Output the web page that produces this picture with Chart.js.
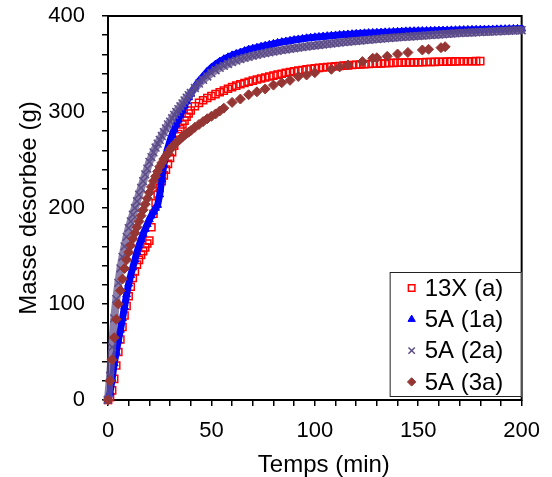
<!DOCTYPE html>
<html>
<head>
<meta charset="utf-8">
<script src="https://cdn.jsdelivr.net/npm/chart.js@4/dist/chart.umd.min.js"></script>
<style>
  html, body { margin: 0; padding: 0; background: #ffffff; }
  #wrap { position: relative; width: 552px; height: 477px; }
</style>
</head>
<body>
<div id="wrap"><canvas id="c" width="552" height="477"></canvas></div>
<script>
// ---- Data ----
const seriesLabels = ["13X (a)", "5A (1a)", "5A (2a)", "5A (3a)"];

const xTickLabels = [0, 50, 100, 150, 200];
const yTickLabels = [0, 100, 200, 300, 400];

// 13X (a) - time (min)
const time13X = [0,1,2,3,4,5,6,7,8,9,10,11,12,13,14,15,16,17,18,19,20,21,22,23,24,25,26,27,28,29,30,31,32,33,34,35,36,37,38,39,40,
  42,44,46,48,50,52,54,56,58,60,62,64,66,68,70,72,74,76,78,80,82,84,86,88,90,92,94,96,98,100,
  102,104,106,108,110,112,114,116,118,120,122,124,126,128,130,132,134,136,138,140,
  142,144,146,148,150,152,154,156,158,160,162,164,166,168,170,172,174,176,178,180];
// 13X (a) - mass (g)
const mass13X = [0,3,10,22,36,50,63,76,88,98,108,118,127,134,141,146,151,155,159,163,166,180,194,205,214,221,228,234,240,246,252,258,265,271,277,282,287,291,295,298.5,301.5,
  306,309.5,312.3,314.6,316.6,318.6,320.5,322.3,324.2,325.9,
  327.5,328.9,330.2,331.5,332.7,333.8,334.9,335.9,336.9,337.9,
  338.9,339.9,340.8,341.6,342.4,343.1,343.8,344.4,345,345.5,
  346,346.4,346.8,347.2,347.6,348,348.3,348.6,348.9,349.2,
  349.5,349.8,350,350.2,350.4,350.6,350.8,351,351.2,351.3,
  351.4,351.5,351.6,351.7,351.8,351.9,352,352.1,352.2,352.3,
  352.4,352.5,352.6,352.7,352.8,352.8,352.9,352.9,353,353];

// 5A (1a) and 5A (2a) share the same sampling times (min)
const time5A = [0,1,2,3,4,5,6,7,8,9,10,11,12,13,14,15,16,17,18,19,20,21,22,23,24,25,26,27,28,29,30,31,32,33,34,35,36,37,38,39,40,
  42,44,46,48,50,52,54,56,58,60,62,64,66,68,70,72,74,76,78,80,82,84,86,88,90,92,94,96,98,100,
  102,104,106,108,110,112,114,116,118,120,122,124,126,128,130,132,134,136,138,140,
  142,144,146,148,150,152,154,156,158,160,162,164,166,168,170,172,174,176,178,180,
  182,184,186,188,190,192,194,196,198,200];
// 5A (1a) - mass (g)
const mass5A1 = [0,8,22,38,50,62,73,85,97,110,121,130,138,146,154,161,167,173,178,183,188,192,196,200,203,214,230,245,255,263,270,276,282,287,292,297,302,307,311,315,319,
  326,332,337,342,346,349.5,352.5,355,357,359,
  360.5,362,363.5,365,366,367,368,369,370,371,
  372,372.8,373.5,374.2,375,375.6,376.2,376.8,377.3,377.8,
  378.2,378.6,379,379.4,379.8,380.2,380.5,380.8,381.1,381.4,
  381.7,382,382.2,382.4,382.6,382.8,383,383.2,383.4,383.6,
  383.8,384,384.1,384.2,384.3,384.4,384.5,384.6,384.7,384.8,
  384.9,385,385.1,385.2,385.3,385.4,385.5,385.6,385.7,385.8,
  385.9,386,386,386.1,386.2,386.3,386.4,386.5,386.6,386.7];
// 5A (2a) - mass (g)
const mass5A2 = [0,25,55,85,105,122,137,149,160,170,179,186,193,200,207,214,221,228,235,241,248,253,258,263,267,271,275,279,283,287,290,293.5,297,300,303,306,309,312,315,317.5,320,
  325,329.5,333.5,337,340.5,343.5,346,348,350,352,
  353.5,355,356.3,357.5,358.6,359.6,360.5,361.4,362.2,363,
  363.7,364.4,365.1,365.8,366.4,367,367.6,368.2,368.8,369.3,
  369.8,370.3,370.8,371.3,371.8,372.3,372.8,373.2,373.6,374,
  374.4,374.8,375.2,375.6,376,376.4,376.8,377.1,377.4,377.7,
  378,378.3,378.6,378.9,379.2,379.5,379.8,380.1,380.4,380.7,
  381,381.3,381.6,381.9,382.2,382.4,382.6,382.8,383,383.2,
  383.4,383.6,383.8,384,384.2,384.4,384.6,384.8,385,385.2];

// 5A (3a) - time (min)
const time5A3 = [0,1,2,3,4,5,6,7,8,9,10,11,12,13,14,15,16,17,18,19,20,21,22,23,24,25,26,27,28,29,30,31,32,33,34,35,36,37,38,39,40,
  42,44,46,48,50,52,54,
  56,60,64,68,72,76,80,84,88,92,96,100,108,112,116,123,128,130,135,140,145,152,155,161,163];
// 5A (3a) - mass (g)
const mass5A3 = [0,20,42,65,84,100,114,126,137,146,154,161,168,174,180,186,192,198,204,210,216,222,228,233,238,243,247,251,254,257,261,263.5,266,268,270,272,274,276,277.5,279,280.5,
  284,287,290,293,295.5,298,301,
  304,310,313.5,318,321,324,328,330.5,333,337,338.5,341,344.5,347,349,352.5,356,356.5,358,360.4,362,364.6,365.3,367,368];

// ---- Styles ----
const FONT = "'Liberation Sans', Arial, Helvetica, sans-serif";
const colRed = '#FF0000', colBlue = '#0000FF', colPurple = '#5C4C88', colBrown = '#963634';

function pairs(xs, ys) { return xs.map((x, i) => ({ x: x, y: ys[i] })); }

const styles = [
  { color: colRed,    pointStyle: 'rect',     radius: 5,   fill: 'rgba(0,0,0,0)', bw: 1.5, order: 4, line: 0 },
  { color: colBlue,   pointStyle: 'triangle', radius: 4.5, fill: colBlue,         bw: 1,   order: 3, line: 7, lineColor: colBlue },
  { color: colPurple, pointStyle: 'crossRot', radius: 5.5, fill: colPurple,       bw: 1.5, order: 2, line: 8, lineColor: 'rgba(100,84,142,0.75)' },
  { color: colBrown,  pointStyle: 'rectRot',  radius: 5,   fill: colBrown,        bw: 1,   order: 1, line: 0 }
];
const seriesData = [pairs(time13X, mass13X), pairs(time5A, mass5A1), pairs(time5A, mass5A2), pairs(time5A3, mass5A3)];

const datasets = seriesLabels.map((lab, i) => ({
  label: lab,
  data: seriesData[i],
  showLine: styles[i].line > 0,
  borderWidth: styles[i].line,
  borderColor: styles[i].line > 0 ? styles[i].lineColor : styles[i].color,
  tension: 0,
  pointStyle: styles[i].pointStyle,
  pointRadius: styles[i].radius,
  pointBorderWidth: styles[i].bw,
  backgroundColor: styles[i].fill,
  pointBorderColor: styles[i].color,
  pointBackgroundColor: styles[i].fill,
  order: styles[i].order,
  clip: false
}));

// Frame around the plot area
const framePlugin = {
  id: 'frame',
  beforeDatasetsDraw(chart) {
    const a = chart.chartArea, ctx = chart.ctx;
    ctx.save();
    ctx.strokeStyle = '#000';
    ctx.lineWidth = 2;
    ctx.strokeRect(a.left, a.top, a.right - a.left, a.bottom - a.top);
    ctx.restore();
  }
};

// X axis title, centred slightly right of the plot centre as in the reference
const xTitlePlugin = {
  id: 'xTitle',
  afterDraw(chart) {
    const a = chart.chartArea, ctx = chart.ctx;
    const t = chart.options.scales.x.title;
    ctx.save();
    ctx.fillStyle = '#000';
    ctx.font = '24px ' + FONT;
    ctx.textAlign = 'center';
    ctx.textBaseline = 'alphabetic';
    ctx.fillText(t.text, (a.left + a.right) / 2 + 9, 472);
    ctx.restore();
  }
};

// Legend box drawn inside the plot (bottom right)
const legendPlugin = {
  id: 'insideLegend',
  afterDatasetsDraw(chart) {
    const a = chart.chartArea, ctx = chart.ctx;
    const w = 132, h = 125;
    const x0 = a.right - w, y0 = a.bottom - 3 - h;
    ctx.save();
    ctx.fillStyle = '#fff';
    ctx.fillRect(x0, y0, w, h);
    ctx.strokeStyle = '#222';
    ctx.lineWidth = 1;
    ctx.strokeRect(x0 + 0.5, y0 + 0.5, w - 1, h - 1);
    const rowH = 31.3;
    const legendRadius = [4.6, 4.2, 4.5, 4.2];
    seriesLabels.forEach((lab, i) => {
      const cy = y0 + 16 + i * rowH;
      const cx = x0 + 22;
      ctx.strokeStyle = styles[i].color;
      ctx.fillStyle = styles[i].fill;
      ctx.lineWidth = styles[i].bw;
      Chart.helpers.drawPoint(ctx, { pointStyle: styles[i].pointStyle, radius: legendRadius[i], rotation: 0, borderWidth: styles[i].bw }, cx, cy);
      ctx.fillStyle = '#000';
      ctx.font = '24px ' + FONT;
      ctx.textAlign = 'left';
      ctx.textBaseline = 'middle';
      ctx.fillText(lab, x0 + 35, cy + 1);
    });
    ctx.restore();
  }
};

new Chart(document.getElementById('c'), {
  type: 'scatter',
  data: { datasets: datasets },
  options: {
    responsive: false,
    animation: false,
    devicePixelRatio: 1,
    layout: { padding: { left: 0, top: 0, right: 29, bottom: 0 } },
    plugins: { legend: { display: false }, tooltip: { enabled: false } },
    elements: { line: { borderJoinStyle: 'round', borderCapStyle: 'round' } },
    scales: {
      x: {
        type: 'linear', min: 0, max: 200,
        border: { display: false },
        grid: { drawOnChartArea: false, drawTicks: true, tickLength: 6, color: '#000', lineWidth: 1.5 },
        ticks: {
          stepSize: 10, autoSkip: false, maxRotation: 0, padding: 12,
          color: '#000', font: { family: FONT, size: 22 },
          callback: (v) => xTickLabels.includes(v) ? String(v) : ''
        },
        title: { display: false, text: 'Temps (min)', color: '#000', font: { family: FONT, size: 24 } },
        afterFit: (s) => { s.height = 77; }
      },
      y: {
        type: 'linear', min: 0, max: 400,
        border: { display: false },
        grid: { drawOnChartArea: false, drawTicks: true, tickLength: 6, color: '#000', lineWidth: 1.5 },
        ticks: {
          stepSize: 20, autoSkip: false, padding: 17,
          color: '#000', font: { family: FONT, size: 22 },
          callback: (v) => yTickLabels.includes(v) ? String(v) : ''
        },
        title: { display: true, text: 'Masse désorbée (g)', color: '#000', font: { family: FONT, size: 24, lineHeight: 1 }, padding: { top: 17, bottom: 0 } },
        afterFit: (s) => { s.width = 108; s.paddingTop = 16; s.paddingBottom = 0; }
      }
    }
  },
  plugins: [framePlugin, legendPlugin, xTitlePlugin]
});
</script>
</body>
</html>
